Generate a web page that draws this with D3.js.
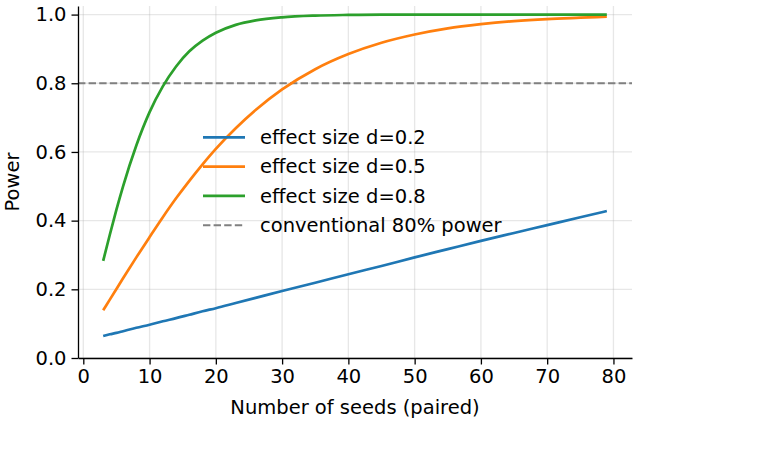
<!DOCTYPE html>
<html>
<head>
<meta charset="utf-8">
<script src="https://cdn.jsdelivr.net/npm/d3@7"></script>
<style>
  body { margin: 0; background: #fff; }
  text { font-family: "DejaVu Sans", sans-serif; fill: #000; }
</style>
</head>
<body>
<div id="chart-area"></div>
<script>
// Data
// ****
const seeds = [3, 4, 5, 6, 8, 10, 12, 14, 16, 18, 20, 23, 26, 30, 35, 40, 45, 50, 55, 60, 65, 70, 75, 79]
const power_d02 = [0.064, 0.069, 0.073, 0.078, 0.088, 0.097, 0.107, 0.116, 0.126, 0.136, 0.145, 0.160, 0.175, 0.195, 0.219, 0.244, 0.268, 0.293, 0.317, 0.341, 0.364, 0.387, 0.410, 0.428]
const power_d05 = [0.139, 0.170, 0.201, 0.232, 0.293, 0.352, 0.410, 0.465, 0.516, 0.564, 0.609, 0.669, 0.722, 0.782, 0.841, 0.885, 0.918, 0.942, 0.960, 0.972, 0.981, 0.987, 0.991, 0.994]
const power_d08 = [0.283, 0.359, 0.432, 0.500, 0.619, 0.716, 0.791, 0.849, 0.893, 0.924, 0.947, 0.970, 0.983, 0.992, 0.997, 0.999, 1.000, 1.000, 1.000, 1.000, 1.000, 1.000, 1.000, 1.000]
const series_labels = ["effect size d=0.2", "effect size d=0.5", "effect size d=0.8"]
const threshold = 0.8
const threshold_label = "conventional 80% power"
const x_ticks = [0, 10, 20, 30, 40, 50, 60, 70, 80]
const y_ticks = [0.0, 0.2, 0.4, 0.6, 0.8, 1.0]

// Config
// ******
const W = 780, H = 457
const margin = {top: 6, right: 148, bottom: 99, left: 78}
const width = W - margin.left - margin.right
const height = H - margin.top - margin.bottom
const colors = ["#1f77b4", "#ff7f0e", "#2ca02c"]
const fs = 19.5

const svg = d3.select("#chart-area")
	.append("svg")
		.attr("width", W)
		.attr("height", H)
const g = svg.append("g")
	.attr("transform", "translate(" + margin.left + ", " + margin.top + ")")

const x_scale = d3.scaleLinear().domain([-0.8, 82.8]).range([0, width])
const y_scale = d3.scaleLinear().domain([0, 1.025]).range([height, 0])

// Grid
g.append("g").selectAll("line").data(x_ticks).join("line")
	.attr("x1", d => x_scale(d)).attr("x2", d => x_scale(d))
	.attr("y1", 0).attr("y2", height)
	.attr("stroke", "#b0b0b0").attr("stroke-opacity", 0.3).attr("stroke-width", 1.3)
g.append("g").selectAll("line").data(y_ticks).join("line")
	.attr("x1", 0).attr("x2", width)
	.attr("y1", d => y_scale(d)).attr("y2", d => y_scale(d))
	.attr("stroke", "#b0b0b0").attr("stroke-opacity", 0.3).attr("stroke-width", 1.3)

// Threshold
g.append("line")
	.attr("x1", 0).attr("x2", width)
	.attr("y1", y_scale(threshold)).attr("y2", y_scale(threshold))
	.attr("stroke", "#808080").attr("stroke-width", 2)
	.attr("stroke-dasharray", "7.4,3.2")

// Lines
const series = [power_d02, power_d05, power_d08]
const line = d3.line()
	.x((d, i) => x_scale(seeds[i]))
	.y(d => y_scale(d))
	.curve(d3.curveMonotoneX)
series.forEach((vals, i) => {
	g.append("path")
		.datum(vals)
		.attr("d", line)
		.attr("fill", "none")
		.attr("stroke", colors[i])
		.attr("stroke-width", 2.7)
})

// Axes
const x_axis = g.append("g")
	.attr("transform", "translate(0, " + height + ")")
	.call(d3.axisBottom(x_scale).tickValues(x_ticks).tickFormat(d3.format("d")).tickSize(6.5).tickSizeOuter(0).tickPadding(5))
const y_axis = g.append("g")
	.call(d3.axisLeft(y_scale).tickValues(y_ticks).tickFormat(d3.format(".1f")).tickSize(6.5).tickSizeOuter(0).tickPadding(5))
;[x_axis, y_axis].forEach(a => {
	a.selectAll("text").style("font-size", fs + "px").style("font-family", "DejaVu Sans")
	a.selectAll("line").attr("stroke", "#000").attr("stroke-width", 1.3)
	a.select(".domain").attr("stroke", "#000").attr("stroke-width", 1.3)
})

// Labels
g.append("text")
	.attr("x", width / 2)
	.attr("y", height + 56)
	.attr("text-anchor", "middle")
	.style("font-size", fs + "px")
	.text("Number of seeds (paired)")
g.append("text")
	.attr("transform", "rotate(-90)")
	.attr("x", -height / 2)
	.attr("y", -59)
	.attr("text-anchor", "middle")
	.style("font-size", fs + "px")
	.text("Power")

// Legend
const legend = g.append("g").attr("transform", "translate(125, 131.3)")
const legend_items = series_labels.map((s, i) => ({label: s, color: colors[i], dash: null, w: 2.7}))
legend_items.push({label: threshold_label, color: "#808080", dash: "7.4,3.2", w: 2})
legend_items.forEach((item, i) => {
	const row = legend.append("g").attr("transform", "translate(0, " + (i * 29.3) + ")")
	row.append("line")
		.attr("x1", 0).attr("x2", 42)
		.attr("stroke", item.color)
		.attr("stroke-width", item.w)
		.attr("stroke-dasharray", item.dash)
	row.append("text")
		.attr("x", 57)
		.attr("dy", "0.35em")
		.style("font-size", fs + "px")
		.text(item.label)
})
</script>
</body>
</html>
